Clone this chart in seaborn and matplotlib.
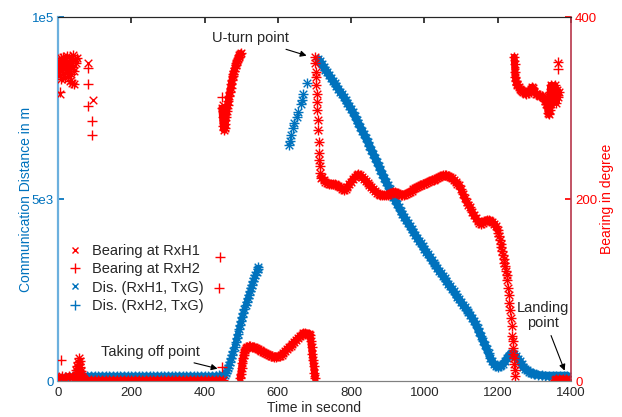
import numpy as np
import pandas as pd
import matplotlib
matplotlib.use("Agg")
import matplotlib.pyplot as plt
from matplotlib.lines import Line2D
import seaborn as sns

BLUE = "#0072BD"
RED = "#FF0000"

# --- distance between helicopter receiver and ground transmitter (m) ---
# both receivers read as the same curve
dis_ground_t = list(range(0, 451, 10))
dis_ground_d = [60, 80, 100, 115, 125, 135, 140, 145, 145, 150,
                150, 150, 150, 150, 150, 150, 150, 150, 150, 150,
                150, 150, 150, 150, 150, 150, 150, 150, 150, 150,
                150, 150, 150, 150, 150, 150, 150, 150, 150, 150,
                150, 150, 150, 150, 155, 160]
dis_climb_t = [455, 458, 461, 464, 467, 470, 473, 476, 479, 482,
               485, 488, 491, 494, 497, 500, 503, 506, 509, 512,
               515, 518, 521, 524, 527, 530, 533, 536, 539, 542,
               545, 547]
dis_climb_d = [170, 220, 290, 370, 450, 530, 620, 720, 830, 940,
               1060, 1180, 1300, 1420, 1540, 1650, 1760, 1870, 1980, 2080,
               2180, 2280, 2370, 2460, 2560, 2650, 2740, 2830, 2920, 3000,
               3080, 3120]
dis_sparse_t = [630, 633, 637, 641, 645, 652, 655, 662, 666, 669, 680]
dis_sparse_d = [6480, 6600, 6750, 6950, 7100, 7250, 7380, 7600, 7720, 7900, 8190]
dis_return_t = list(range(710, 1301, 5)) + list(range(1310, 1391, 10))
dis_return_d = [8850, 8780, 8700, 8630, 8550, 8480, 8400, 8330, 8250, 8180,
                8100, 8030, 7950, 7880, 7800, 7720, 7640, 7560, 7470, 7380,
                7280, 7180, 7080, 6980, 6880, 6780, 6680, 6580, 6470, 6360,
                6250, 6140, 6030, 5920, 5810, 5700, 5590, 5480, 5380, 5270,
                5170, 5070, 4970, 4870, 4770, 4680, 4590, 4500, 4420, 4340,
                4260, 4180, 4100, 4020, 3940, 3860, 3780, 3700, 3630, 3550,
                3480, 3400, 3330, 3250, 3180, 3100, 3030, 2960, 2890, 2820,
                2750, 2670, 2600, 2530, 2460, 2380, 2310, 2240, 2170, 2100,
                2030, 1960, 1890, 1820, 1740, 1650, 1560, 1450, 1340, 1230,
                1110, 1000, 880, 760, 640, 540, 460, 410, 390, 400,
                430, 480, 540, 620, 700, 750, 770, 740, 680, 610,
                540, 460, 380, 340, 300, 260, 230, 210, 190,
                170, 160, 150, 150, 150, 150, 150, 150, 150]

# --- bearing (degree), shared by both receivers ---
brg_ground_t = list(range(0, 451, 10))
brg_ground_v = [3, 5, 2, 6, 4, 3, 2, 1, 1, 1,
                1, 1, 1, 1, 1, 1, 1, 1, 1, 1,
                1, 1, 1, 1, 1, 1, 1, 1, 1, 1,
                1, 1, 1, 1, 1, 1, 1, 1, 1, 1,
                1, 1, 1, 1, 1, 1]
brg_bump_t = [46, 48, 50, 52, 53, 55, 56, 57, 58, 59, 60, 62, 64, 66, 68]
brg_bump_v = [4, 7, 12, 9, 17, 14, 21, 25, 19, 15, 22, 11, 8, 5, 3]
brg_start_t = [0, 2, 3, 5, 6, 8, 9, 11, 12, 14, 15, 17, 18, 20, 21, 23,
               24, 26, 27, 29, 30, 32, 33, 35, 36, 38, 39, 41, 42, 44, 45, 47,
               49, 51]
brg_start_v = [348, 340, 352, 336, 345, 355, 332, 350, 342, 356,
               338, 347, 353, 333, 344, 351, 339, 357, 335, 346,
               352, 330, 343, 355, 337, 349, 328, 345, 358, 326,
               341, 354, 350, 355]
brg_takeoff_t = list(range(447, 500, 2))
brg_takeoff_v = [300, 290, 280, 276, 278, 283, 290, 297, 303, 308,
                 313, 318, 322, 327, 331, 335, 338, 341, 344, 347,
                 350, 352, 354, 356, 358, 359, 360]
brg_hump_t = [497, 499, 501, 503, 505, 507, 509, 511, 513, 516, 520,
              525, 530, 535, 540, 545, 550, 555, 560, 565, 570,
              575, 580, 585, 590, 595, 600, 605, 610, 615, 620,
              625, 630, 635, 640, 645, 650, 655, 660, 665, 670,
              675, 680, 685, 688, 690, 692, 694, 696, 698, 700, 702]
brg_hump_v = [3, 8, 14, 20, 25, 29, 32, 34, 36, 37, 38,
              38, 37, 37, 36, 35, 34, 33, 32, 31, 30,
              29, 28, 27, 26, 26, 27, 28, 29, 31, 33,
              35, 37, 39, 41, 43, 45, 47, 49, 51, 53,
              53, 52, 52, 51, 44, 37, 30, 23, 16, 9, 3]
brg_uturn_t = [701, 702, 703, 704, 705, 706, 707, 708, 709, 710, 711, 712, 713, 714, 716, 719]
brg_uturn_v = [356, 349, 340, 334, 325, 316, 307, 298, 287, 276, 263, 251, 243, 236, 229, 223]
brg_wave_t = list(range(720, 1201, 5))
brg_wave_v = [224, 221, 219, 218, 217, 217, 217, 216, 215, 214,
              213, 211, 210, 211, 213, 216, 219, 222, 224, 226,
              227, 226, 224, 222, 220, 218, 215, 213, 211, 209,
              207, 206, 205, 205, 204, 204, 205, 206, 207, 208,
              208, 207, 206, 205, 205, 205, 206, 207, 208, 209,
              211, 212, 213, 214, 215, 216, 217, 218, 219, 220,
              221, 221, 222, 223, 224, 225, 226, 226, 226, 225,
              224, 223, 221, 219, 217, 215, 211, 206, 201, 197,
              194, 191, 186, 182, 179, 176, 174, 173, 174, 176,
              177, 177, 176, 175, 173, 170, 166]
brg_dive_t = [1202, 1204, 1206, 1208, 1210, 1212, 1214, 1216, 1218, 1220,
              1222, 1224, 1226, 1228, 1230, 1232, 1234, 1236, 1238, 1240,
              1241, 1242, 1243, 1244, 1245, 1246, 1247]
brg_dive_v = [163, 159, 155, 151, 147, 143, 139, 134, 130, 126,
              121, 117, 111, 102, 94, 86, 78, 69, 60, 50,
              44, 36, 30, 25, 19, 12, 5]
brg_return_t = [1245, 1246, 1247, 1248, 1250, 1252, 1254, 1257, 1260, 1263,
                1266, 1270, 1274, 1278, 1282, 1286, 1290, 1293, 1296, 1300,
                1304, 1308, 1312, 1316, 1320, 1324, 1328, 1330, 1333, 1336,
                1338, 1340, 1342, 1343, 1345, 1346, 1348, 1350, 1352, 1354,
                1356, 1358, 1360, 1362, 1364, 1366]
brg_return_v = [356, 348, 340, 334, 330, 327, 325, 323, 321, 320,
                319, 318, 317, 316, 317, 319, 321, 323, 322, 318,
                316, 315, 314, 313, 313, 312, 310, 308, 305, 300,
                295, 293, 298, 318, 325, 304, 312, 322, 310, 318,
                325, 314, 306, 320, 312, 318]
brg_land_t = [1356, 1359, 1362, 1365, 1368, 1371, 1374, 1377, 1380, 1383, 1386, 1389]
brg_land_v = [1, 2, 1, 0, 2, 1, 1, 2, 0, 1, 2, 1]

# isolated readings seen only for one receiver
h1_only_t = [5, 83, 95, 451, 1365]
h1_only_v = [316, 349, 309, 303, 350]
h2_only_t = [5, 8, 83, 83, 83, 94, 94, 440, 442, 447, 447, 1364, 1365]
h2_only_v = [318, 23, 344, 326, 302, 286, 270, 102, 136, 15, 312, 343, 351]

dis = pd.DataFrame({
    "t": dis_ground_t + dis_climb_t + dis_sparse_t + dis_return_t,
    "d": dis_ground_d + dis_climb_d + dis_sparse_d + dis_return_d,
})
brg = pd.DataFrame({
    "t": brg_ground_t + brg_bump_t + brg_start_t + brg_takeoff_t + brg_hump_t
         + brg_uturn_t + brg_wave_t + brg_dive_t + brg_return_t + brg_land_t,
    "b": brg_ground_v + brg_bump_v + brg_start_v + brg_takeoff_v + brg_hump_v
         + brg_uturn_v + brg_wave_v + brg_dive_v + brg_return_v + brg_land_v,
})
h1 = pd.concat([brg, pd.DataFrame({"t": h1_only_t, "b": h1_only_v})])
h2 = pd.concat([brg, pd.DataFrame({"t": h2_only_t, "b": h2_only_v})])

sns.set_theme(style="white")
plt.rcParams["font.family"] = ["Liberation Sans", "DejaVu Sans"]

fig, ax1 = plt.subplots(figsize=(6.22, 4.17), dpi=100)
fig.subplots_adjust(left=0.0932, right=0.918, bottom=0.0863, top=0.959)
ax2 = ax1.twinx()

# densely sampled stretches merge into a solid band of markers
for tt, vv, w in [(dis_ground_t, dis_ground_d, 4), (dis_climb_t, dis_climb_d, 4),
                  (dis_return_t, dis_return_d, 5.5)]:
    sns.lineplot(x=tt, y=vv, sort=False, estimator=None, color=BLUE, lw=w,
                 solid_capstyle="round", ax=ax1)
for tt, vv, w in [(brg_ground_t, brg_ground_v, 4), (brg_takeoff_t, brg_takeoff_v, 5),
                  (brg_hump_t, brg_hump_v, 5), (brg_wave_t, brg_wave_v, 5),
                  (brg_return_t, brg_return_v, 5), (brg_land_t, brg_land_v, 4)]:
    sns.lineplot(x=tt, y=vv, sort=False, estimator=None, color=RED, lw=w,
                 solid_capstyle="round", ax=ax2)

# distance on the left axis
sns.scatterplot(data=dis, x="t", y="d", marker="x", color=BLUE, s=30,
                linewidth=1.0, ax=ax1, legend=False)
sns.scatterplot(data=dis, x="t", y="d", marker="+", color=BLUE, s=45,
                linewidth=1.0, ax=ax1, legend=False)

# bearing on the right axis
sns.scatterplot(data=h1, x="t", y="b", marker="x", color=RED, s=30,
                linewidth=1.0, ax=ax2, legend=False)
sns.scatterplot(data=h2, x="t", y="b", marker="+", color=RED, s=45,
                linewidth=1.0, ax=ax2, legend=False)

ax1.set_xlim(0, 1400)
ax1.set_xticks(range(0, 1401, 200))
ax1.set_ylim(0, 10000)
ax1.set_yticks([0, 5000, 10000])
ax1.set_yticklabels(["0", "5e3", "1e5"])
ax2.set_ylim(0, 400)
ax2.set_yticks([0, 200, 400])

ax1.set_xlabel("Time in second", fontsize=10, color="#262626", labelpad=1)
ax1.set_ylabel("Communication Distance in m", fontsize=10, color=BLUE, labelpad=-1)
ax2.set_ylabel("Bearing in degree", fontsize=10, color=RED, labelpad=2)

ax1.tick_params(axis="x", direction="in", length=4, top=True, labelsize=9.5,
                colors="#262626", pad=4.5)
ax1.tick_params(axis="y", direction="in", length=4, labelsize=9.5,
                colors=BLUE, pad=3)
ax2.tick_params(axis="y", direction="in", length=4, labelsize=9.5,
                colors=RED, pad=3)

for ax in (ax1, ax2):
    ax.spines["top"].set_color("#262626")
    ax.spines["bottom"].set_color("#808080")
    ax.spines["top"].set_linewidth(0.8)
    ax.spines["bottom"].set_linewidth(0.8)
ax1.spines["left"].set_color("#6CB0DE")
ax1.spines["left"].set_linewidth(1.6)
ax2.spines["left"].set_visible(False)
ax2.spines["right"].set_color("#B8364A")
ax2.spines["right"].set_linewidth(1.2)
ax1.spines["right"].set_visible(False)

arrow = dict(arrowstyle="-|>", color="black", lw=0.8, mutation_scale=9,
             shrinkA=2, shrinkB=1)
ax1.annotate("U-turn point", xy=(682, 8930), xytext=(524, 9420),
             ha="center", va="center", fontsize=10.5, arrowprops=arrow)
ax1.annotate("Taking off point", xy=(439, 330), xytext=(251, 800),
             ha="center", va="center", fontsize=10.5, arrowprops=arrow)
ax1.annotate("Landing\npoint", xy=(1384, 250), xytext=(1324, 1810),
             ha="center", va="center", fontsize=10.5, linespacing=1.1,
             arrowprops=arrow)

handles = [
    Line2D([], [], ls="none", marker="x", color=RED, ms=5, mew=1.0),
    Line2D([], [], ls="none", marker="+", color=RED, ms=7, mew=1.0),
    Line2D([], [], ls="none", marker="x", color=BLUE, ms=5, mew=1.0),
    Line2D([], [], ls="none", marker="+", color=BLUE, ms=7, mew=1.0),
]
labels = ["Bearing at RxH1", "Bearing at RxH2", "Dis. (RxH1, TxG)", "Dis. (RxH2, TxG)"]
ax2.legend(handles, labels, loc="center left", bbox_to_anchor=(0.0, 0.282),
           frameon=False, fontsize=10.5, handlelength=1.0, handletextpad=0.6,
           labelspacing=0.3, borderaxespad=0.3)

fig.savefig("out.png", dpi=100)
